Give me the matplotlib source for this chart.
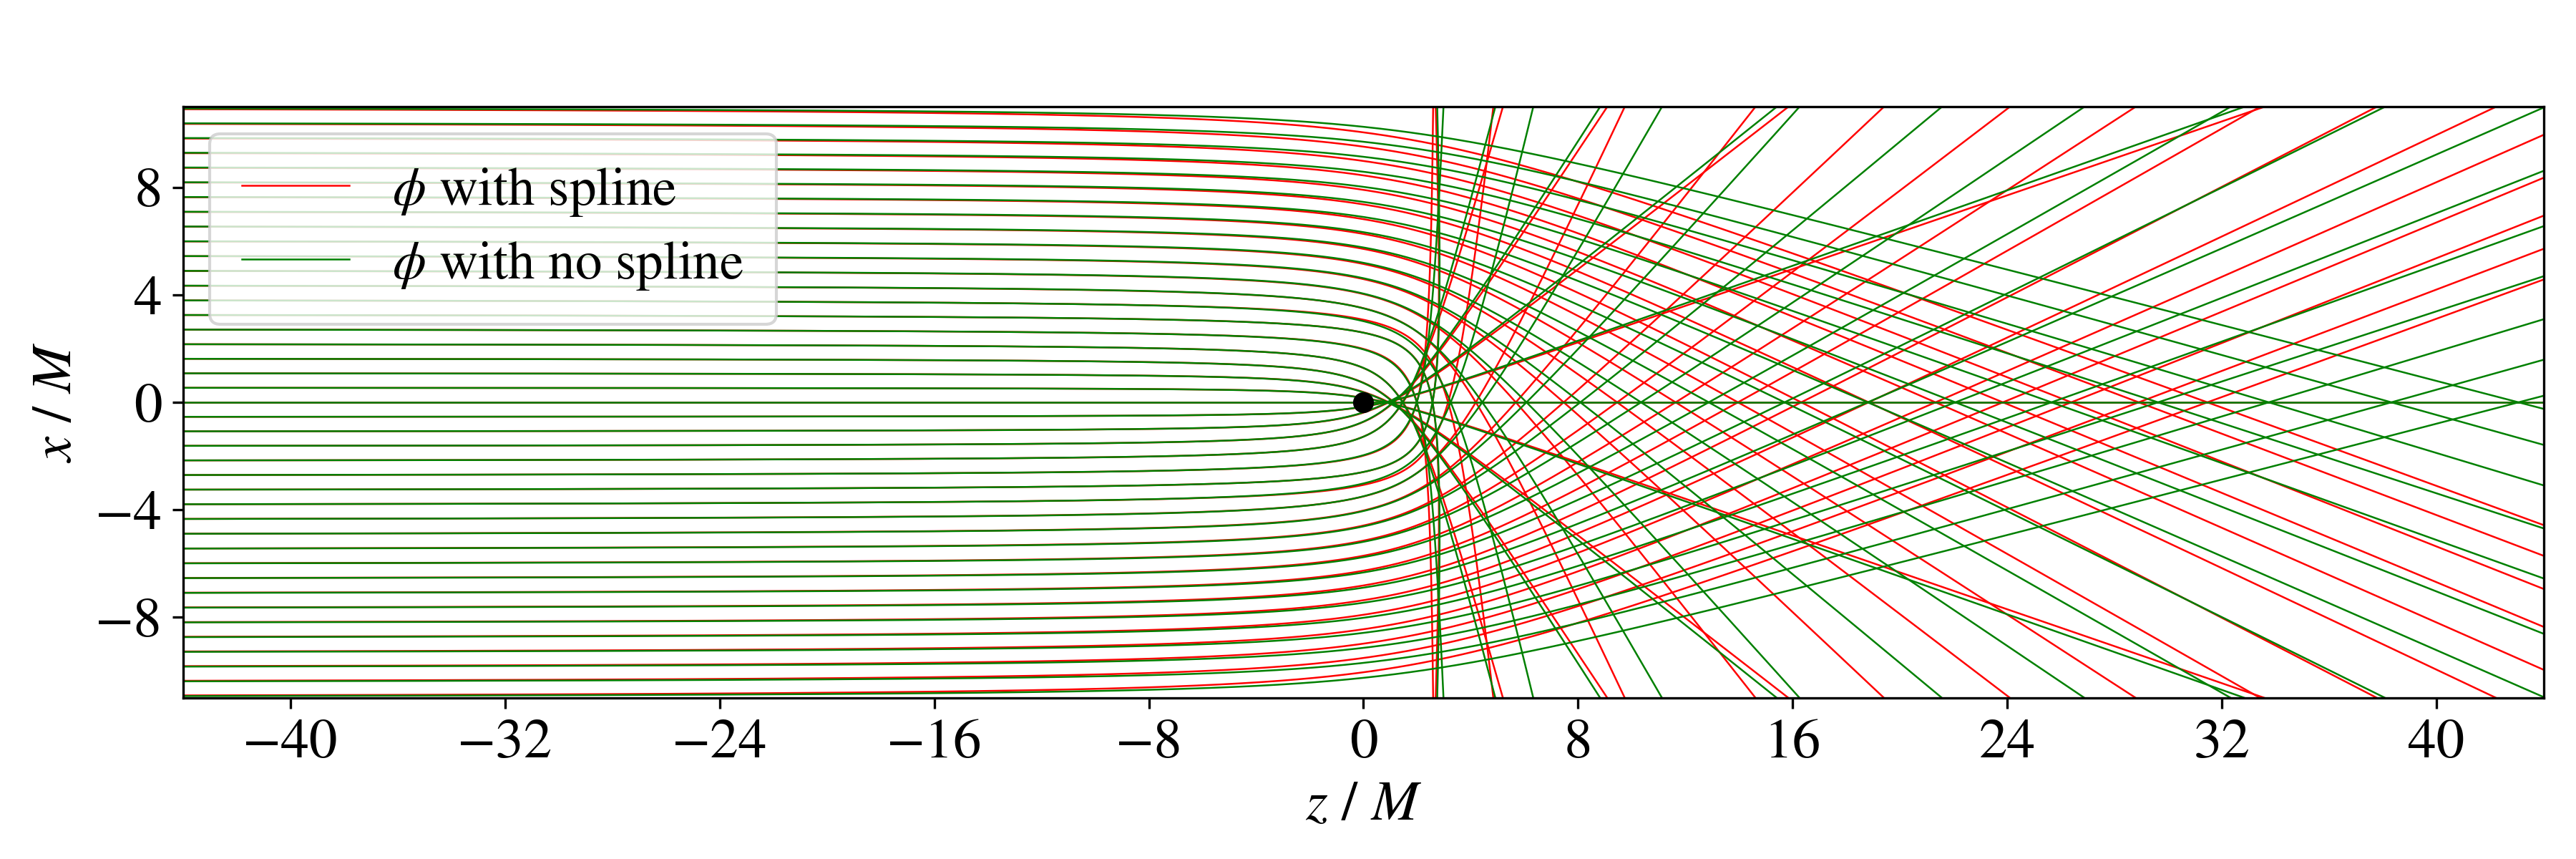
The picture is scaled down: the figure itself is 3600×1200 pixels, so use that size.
"""Light rays bent by a compact mass: phi from a spline fit vs. phi without it.

Each ray comes in horizontally at impact parameter b and leaves along a
straight asymptote turned by the deflection angle read for that b. The
bend between the two asymptotes is drawn as a hyperbola on those lines.
Rays are mirror-symmetric about x = 0, so only b > 0 is tabulated.
"""
import numpy as np
import matplotlib
matplotlib.use("Agg")
import matplotlib.pyplot as plt

# impact parameters (units of M), upper half; lower half mirrors these
impact_b = [0.55, 1.10, 1.65, 2.20, 2.75, 3.30, 3.85, 4.40, 4.95, 5.50,
            6.05, 6.60, 7.15, 7.70, 8.25, 8.80, 9.35, 9.90, 10.45, 11.00]

# deflection angle of the outgoing asymptote, degrees
deflect_spline = [19.0, 37.9, 56.7, 74.5, 90.0, 92.3, 84.0, 65.2, 52.2, 43.5,
                  37.5, 33.1, 29.8, 27.4, 25.4, 23.9, 22.7, 21.7, 20.9, 20.2]
deflect_nospline = [19.4, 38.7, 57.6, 75.8, 88.0, 92.0, 76.9, 60.4, 48.3, 39.9,
                    34.1, 29.8, 26.4, 23.7, 21.6, 19.8, 18.2, 16.9, 15.7, 14.7]

series_labels = [r"$\phi$ with spline", r"$\phi$ with no spline"]
series_colors = ["red", "green"]

XLIM = (-44, 44)
YLIM = (-11, 11)
XTICKS = np.arange(-40, 41, 8)
YTICKS = np.arange(-8, 9, 4)

# softness of the bend (hyperbola constant grows with b)
BEND0, BEND1 = 1.4, 1 / 10.8


def ray_path(b, alpha_deg):
    """Hyperbola with asymptotes x=|b| (incoming) and the deflected line."""
    if b == 0:
        return np.array([XLIM[0] - 5, XLIM[1] + 5]), np.zeros(2)
    a = np.radians(alpha_deg)
    bb = abs(b)
    zp = bb * np.tan(a / 2)          # where the two asymptotes meet
    c = BEND0 + BEND1 * bb ** 2
    s = np.geomspace(c / 150, 150, 4000)[::-1]
    t = c / s
    z = zp - s + t * np.cos(a)
    x = bb - t * np.sin(a)
    return z, np.sign(b) * x


def main() -> None:
    plt.rcParams["font.family"] = ["STIXGeneral", "DejaVu Serif"]
    plt.rcParams["mathtext.fontset"] = "stix"
    plt.rcParams["font.size"] = 19

    fig = plt.figure(figsize=(12, 4), dpi=300)
    ax = fig.add_axes([0.0711, 0.1875, 0.9164, 0.6883])

    for defl, color, label in zip([deflect_spline, deflect_nospline],
                                  series_colors, series_labels):
        bs = [0.0] + impact_b + [-b for b in impact_b]
        angs = [0.0] + list(defl) + list(defl)
        for i, (b, ang) in enumerate(zip(bs, angs)):
            z, x = ray_path(b, ang)
            ax.plot(z, x, color=color, lw=0.6,
                    label=label if i == 0 else None)

    ax.plot([0], [0], "o", color="black", ms=6, zorder=5)

    ax.set_xlim(*XLIM)
    ax.set_ylim(*YLIM)
    ax.set_xticks(XTICKS)
    ax.set_yticks(YTICKS)
    ax.set_xlabel(r"$z$ / $M$")
    ax.set_ylabel(r"$x$ / $M$")
    ax.legend(loc="upper left", fontsize=18, labelspacing=0.4, borderpad=0.6)

    fig.savefig("out.png", dpi=300)
    plt.close(fig)


if __name__ == "__main__":
    main()
